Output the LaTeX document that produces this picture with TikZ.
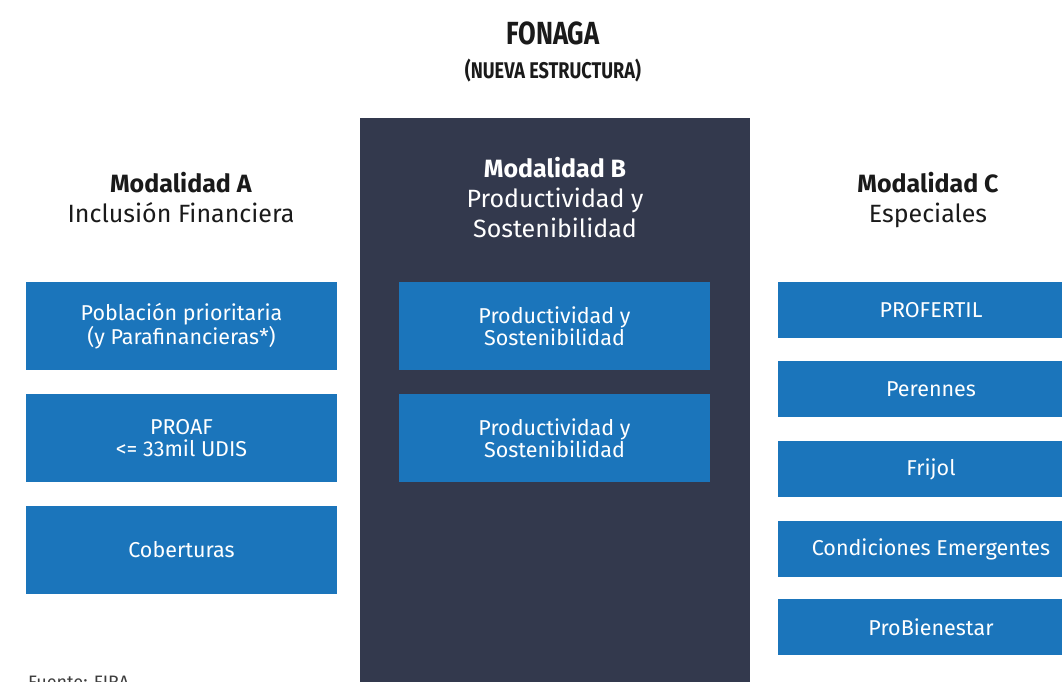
\documentclass[tikz,border=0pt]{standalone}
\usepackage{fontspec}
\setmainfont{Fira Sans}
\newfontfamily\condfont[FakeStretch=0.8]{Fira Sans}
\definecolor{boxblue}{HTML}{1B75BB}
\definecolor{panel}{HTML}{33394D}
\definecolor{ink}{HTML}{1A1A1A}
\tikzset{
  bluebox/.style={fill=boxblue, draw=none, text=white, align=center, inner sep=0pt, font=\fontsize{21.5}{22}\selectfont},
  head/.style={align=center, text=ink, font=\fontsize{25}{30}\selectfont},
}
\begin{document}
\begin{tikzpicture}[x=1pt,y=-1pt]
\useasboundingbox (0,0) rectangle (1062,681);
\clip (0,0) rectangle (1062,681);
% title
\node[text=ink, font=\condfont\bfseries\fontsize{32}{32}\selectfont] (title) at (553,33) {FONAGA};
\node[text=ink, font=\condfont\bfseries\fontsize{22.7}{22.7}\selectfont] (subtitle) at (553,71) {(NUEVA ESTRUCTURA)};
% middle panel
\fill[panel] (360,118) rectangle (750,690);
\node[head, text=white] (hb) at (555,198) {\textbf{Modalidad B}\\Productividad y\\Sostenibilidad};
\node[head] (ha) at (181,198) {\textbf{Modalidad A}\\Inclusión Financiera};
\node[head] (hc) at (928,200) {\textbf{Modalidad C}\\Especiales};
% left boxes
\node[bluebox, minimum width=311, minimum height=88] (a1) at (181.5,326) {Población prioritaria\\(y Parafinancieras*)};
\node[bluebox, minimum width=311, minimum height=88] (a2) at (181.5,438) {PROAF\\<= 33mil UDIS};
\node[bluebox, minimum width=311, minimum height=88] (a3) at (181.5,550) {Coberturas};
% middle boxes
\node[bluebox, minimum width=311, minimum height=88] (b1) at (554.5,326) {Productividad y\\Sostenibilidad};
\node[bluebox, minimum width=311, minimum height=88] (b2) at (554.5,438) {Productividad y\\Sostenibilidad};
% right boxes
\node[bluebox, minimum width=306, minimum height=56] (c1) at (931,310) {PROFERTIL};
\node[bluebox, minimum width=306, minimum height=56] (c2) at (931,389) {Perennes};
\node[bluebox, minimum width=306, minimum height=56] (c3) at (931,469) {Frijol};
\node[bluebox, minimum width=306, minimum height=56] (c4) at (931,549) {Condiciones Emergentes};
\node[bluebox, minimum width=306, minimum height=56] (c5) at (931,627) {ProBienestar};
% source
\node[anchor=base west, inner sep=0pt, text=ink!85, font=\fontsize{18}{18}\selectfont] (src) at (28,688) {Fuente: FIRA};
\end{tikzpicture}
\end{document}
